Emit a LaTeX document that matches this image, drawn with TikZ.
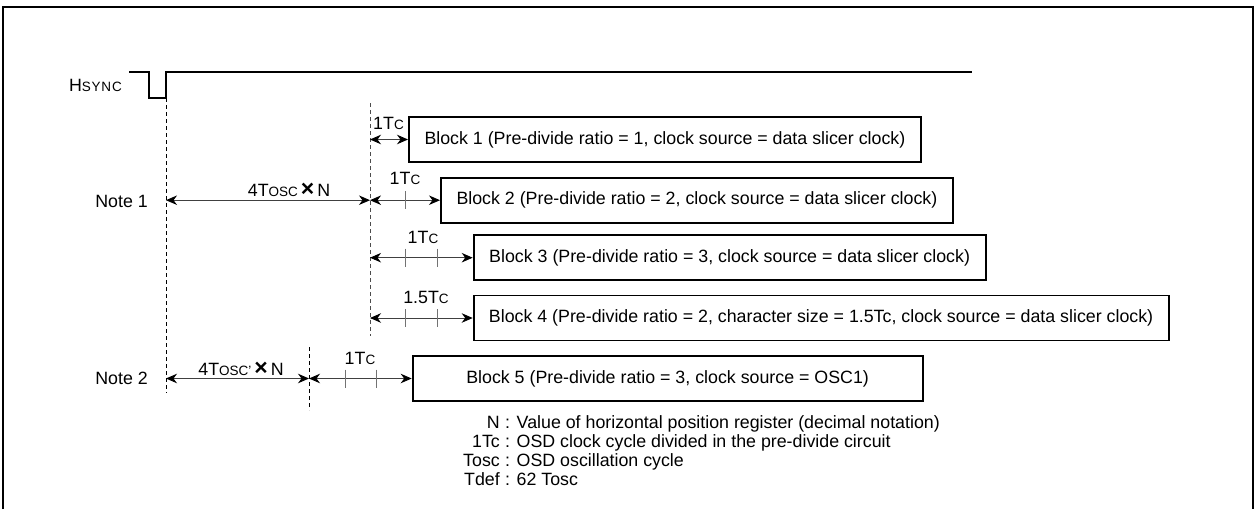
\documentclass[tikz,border=0pt]{standalone}
\usepackage{fontspec}
\setmainfont{Liberation Sans}
\usetikzlibrary{arrows.meta,calc}
\newcommand{\smc}[1]{{\fontsize{13.5}{13.5}\selectfont #1}}
\newcommand{\crossx}{\,{\fontsize{23}{23}\selectfont\textbf{×}}\,}

\begin{document}
\begin{tikzpicture}[x=1pt, y=-1pt, font=\fontsize{17.8}{20}\selectfont,
    >={Stealth[length=11pt,width=9.5pt,inset=3.5pt,color=black]},
    blockbox/.style={draw, line width=1.8pt, minimum height=45pt, inner sep=0pt, anchor=west},
    guide/.style={dash pattern=on 4pt off 3pt, line width=0.9pt},
    dim/.style={<->, line width=0.9pt, black!75},
    tick/.style={line width=0.9pt, black!55},
    lbl/.style={inner sep=0pt}]
    \useasboundingbox (0,0) rectangle (1256,509);
    \draw[line width=2pt] (3,509) -- (3,7) -- (1253,7) -- (1253,509);

    % sync pulse
    \node[lbl, anchor=base east] (hsync) at (122,91) {H\smc{\addfontfeature{LetterSpace=6}SYNC}};
    \coordinate (p0) at (129,72); \coordinate (p1) at (149,72); \coordinate (p2) at (149,98);
    \coordinate (p3) at (166,98); \coordinate (p4) at (166,72); \coordinate (p5) at (972,72);
    \draw[line width=1.6pt] (p0) -- (p1) -- (p2) -- (p3) -- (p4) -- (p5);

    \coordinate (g0top) at (166,98);  \coordinate (g0bot) at (166,393);
    \coordinate (g1top) at (370,103); \coordinate (g1bot) at (370,336);
    \coordinate (g2top) at (309,347); \coordinate (g2bot) at (309,410);
    \draw[guide] (g0top) -- (g0bot); \draw[guide, black!70] (g1top) -- (g1bot); \draw[guide] (g2top) -- (g2bot);

    \node[blockbox, minimum width=512pt] (b1) at (408,139.5) {Block 1 (Pre-divide ratio = 1, clock source = data slicer clock)};
    \node[blockbox, minimum width=512pt] (b2) at (440,200.2) {Block 2 (Pre-divide ratio = 2, clock source = data slicer clock)};
    \node[blockbox, minimum width=512pt] (b3) at (472.7,257.7) {Block 3 (Pre-divide ratio = 3, clock source = data slicer clock)};
    \node[blockbox, minimum width=695pt] (b4) at (472.7,318) {Block 4 (Pre-divide ratio = 2, character size = 1.5Tc, clock source = data slicer clock)};
    \node[blockbox, minimum width=510pt] (b5) at (411.7,378.5) {Block 5 (Pre-divide ratio = 3, clock source = OSC1)};

    \node[lbl, anchor=east] (note1) at (148,201) {Note 1};
    \node[lbl, anchor=east] (note2) at (148,378) {Note 2};

    \draw[dim] (g0top |- b2.west) -- (g1top |- b2.west);
    \node[lbl, anchor=base] (osc1) at (289,196) {4T\smc{OSC}\crossx N};
    \draw[dim] (g0top |- b5.west) -- (g2top |- b5.west);
    \node[lbl, anchor=base] (osc2) at (241,375) {4T\smc{OSC'}\crossx N};

    \draw[dim] (g1top |- b1.west) -- (b1.west);
    \draw[dim] (g1top |- b2.west) -- (b2.west);
    \draw[dim] (g1top |- b3.west) -- (b3.west);
    \draw[dim] (g1top |- b4.west) -- (b4.west);
    \draw[dim] (g2top |- b5.west) -- (b5.west);
    \foreach \x/\b in {405.7/b2, 405.7/b3, 437.3/b3, 405.7/b4, 437.3/b4, 345/b5, 376.7/b5}
        \draw[tick] ($(\x,0 |- \b.west)+(0,-9)$) -- ($(\x,0 |- \b.west)+(0,9)$);

    \node[lbl, anchor=base] (tc1) at (388.5,129) {1T\smc{C}};
    \node[lbl, anchor=base] (tc2) at (405,184) {1T\smc{C}};
    \node[lbl, anchor=base] (tc3) at (423,243) {1T\smc{C}};
    \node[lbl, anchor=base] (tc4) at (426,303) {1.5T\smc{C}};
    \node[lbl, anchor=base] (tc5) at (360,364) {1T\smc{C}};

    \foreach \k/\t [count=\i from 0] in {N/Value of horizontal position register (decimal notation),
        1Tc/OSD clock cycle divided in the pre-divide circuit, Tosc/OSD oscillation cycle, Tdef/62 Tosc} {
        \node[lbl, anchor=base east] (key\i) at (500,428.5+19*\i) {\k};
        \node[lbl, anchor=base west] (val\i) at (key\i.base east) {\ : \t};
    }
\end{tikzpicture}
\end{document}
